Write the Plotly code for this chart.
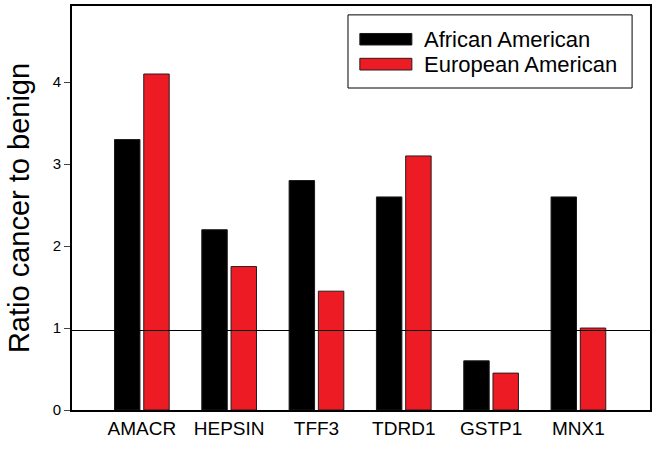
import plotly.graph_objects as go

genes = ["AMACR", "HEPSIN", "TFF3", "TDRD1", "GSTP1", "MNX1"]
african_american = [3.3, 2.2, 2.8, 2.6, 0.6, 2.6]
european_american = [4.1, 1.75, 1.45, 3.1, 0.45, 1.0]
series_names = ["African American", "European American"]
reference_level = 0.97
y_ticks = [0, 1, 2, 3, 4]

FONT = "Liberation Sans, Arial, sans-serif"
BLACK = "#000000"
RED = "#ED1C24"

fig = go.Figure()
fig.add_trace(go.Bar(x=genes, y=african_american, name=series_names[0],
                     marker=dict(color=BLACK, line=dict(color="#1a1a1a", width=1))))
fig.add_trace(go.Bar(x=genes, y=european_american, name=series_names[1],
                     marker=dict(color=RED, line=dict(color="#2a1a1a", width=1))))

# reference line
fig.add_shape(type="line", xref="paper", yref="y", x0=0, x1=1,
              y0=reference_level, y1=reference_level,
              line=dict(color="black", width=1), layer="above")

# manual legend
fig.add_shape(type="rect", xref="paper", yref="paper", x0=0.4775, x1=0.969, y0=0.797, y1=0.978,
              line=dict(color="black", width=1), fillcolor="white", layer="above")
fig.add_shape(type="rect", xref="paper", yref="paper", x0=0.498, x1=0.588, y0=0.9035, y1=0.932,
              line=dict(color="#1a1a1a", width=1), fillcolor=BLACK, layer="above")
fig.add_shape(type="rect", xref="paper", yref="paper", x0=0.498, x1=0.588, y0=0.8416, y1=0.8705,
              line=dict(color="#2a1a1a", width=1), fillcolor=RED, layer="above")
fig.add_annotation(xref="paper", yref="paper", x=0.606, y=0.918, text=series_names[0],
                   showarrow=False, xanchor="left", yanchor="middle",
                   font=dict(family=FONT, size=22, color="black"))
fig.add_annotation(xref="paper", yref="paper", x=0.606, y=0.856, text=series_names[1],
                   showarrow=False, xanchor="left", yanchor="middle",
                   font=dict(family=FONT, size=22, color="black"))

fig.update_layout(
    width=659, height=449,
    margin=dict(l=72, r=9, t=6, b=39),
    paper_bgcolor="white", plot_bgcolor="white",
    barmode="group", bargap=0.33, bargroupgap=0.13,
    showlegend=False,
    font=dict(family=FONT, color="black"),
)
fig.update_xaxes(range=[-0.8, 5.82], showline=True, linecolor="black", linewidth=2,
                 mirror=True, ticks="", showgrid=False, automargin=False,
                 tickfont=dict(size=19, family=FONT))
fig.update_yaxes(range=[0, 4.93], tickvals=y_ticks, showline=True, linecolor="black",
                 linewidth=2, mirror=True, ticks="outside", ticklen=6, tickwidth=1,
                 showgrid=False, zeroline=False, automargin=False,
                 tickfont=dict(size=15, family=FONT),
                 title=dict(text="Ratio cancer to benign", font=dict(size=29, family=FONT)))

fig.write_html("out.html", config={"displayModeBar": False},
               post_script="document.body.style.margin='0';")
